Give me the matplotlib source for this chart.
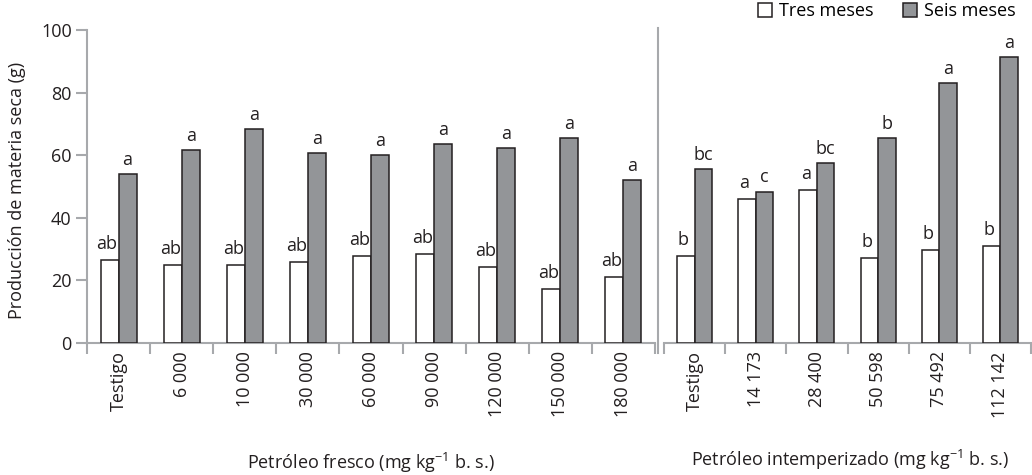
import matplotlib
matplotlib.use("Agg")
import matplotlib.pyplot as plt
from matplotlib.lines import Line2D
import numpy as np

plt.rcParams['font.family'] = ['Open Sans', 'DejaVu Sans']
plt.rcParams['mathtext.fontset'] = 'custom'
plt.rcParams['mathtext.rm'] = 'Open Sans'

# fresh oil doses
fresco_cats = ["Testigo", "6 000", "10 000", "30 000", "60 000",
               "90 000", "120 000", "150 000", "180 000"]
fresco_tres = [26.6, 24.8, 24.8, 25.9, 27.9, 28.4, 24.3, 17.4, 21.1]
fresco_seis = [54.0, 61.7, 68.5, 60.6, 60.0, 63.6, 62.4, 65.5, 52.1]
fresco_tres_let = ["ab"] * 9
fresco_seis_let = ["a"] * 9

# weathered oil doses
intemp_cats = ["Testigo", "14 173", "28 400", "50 598", "75 492", "112 142"]
intemp_tres = [27.9, 46.0, 48.9, 27.2, 29.7, 30.9]
intemp_seis = [55.6, 48.4, 57.6, 65.5, 83.1, 91.5]
intemp_tres_let = ["b", "a", "a", "b", "b", "b"]
intemp_seis_let = ["bc", "c", "bc", "b", "a", "a"]

W, H = 1032, 475
fig = plt.figure(figsize=(W / 100, H / 100), dpi=100)

spine_col = "#a7a9ac"
edge_col = "#231f20"
gray_fill = "#939598"
fs = 13

y0, y100 = 343, 30
bot = 1 - y0 / H
hgt = (y0 - y100) / H

ax1 = fig.add_axes([87 / W, bot, (655 - 87) / W, hgt])
ax2 = fig.add_axes([664 / W, bot, (1031 - 664) / W, hgt])

bw = 0.285


def draw(ax, cats, tres, seis, ltres, lseis):
    x = np.arange(len(cats)) + 0.5
    b1 = ax.bar(x - bw / 2, tres, bw, color="white", edgecolor=edge_col,
                linewidth=1.1, zorder=3, label="Tres meses")
    b2 = ax.bar(x + bw / 2, seis, bw, color=gray_fill, edgecolor=edge_col,
                linewidth=1.1, zorder=3, label="Seis meses")
    for xi, v, t in zip(x - bw / 2, tres, ltres):
        ax.text(xi - 0.04, v + 2.2, t, ha="center", va="bottom", fontsize=fs,
                color=edge_col)
    for xi, v, t in zip(x + bw / 2, seis, lseis):
        ax.text(xi, v + 1.6, t, ha="center", va="bottom", fontsize=fs,
                color=edge_col)
    ax.set_xlim(0, len(cats))
    ax.set_ylim(0, 100)
    ax.set_xticks(np.arange(len(cats) + 1))
    ax.set_xticklabels([])
    ax.set_xticks(x, minor=True)
    ax.set_xticklabels(cats, minor=True, rotation=90, fontsize=fs,
                       color=edge_col)
    ax.tick_params(axis="x", which="major", length=8, width=1.5,
                   color=spine_col, direction="out")
    ax.tick_params(axis="x", which="minor", length=0, pad=6)
    for s in ["top", "right"]:
        ax.spines[s].set_visible(False)
    ax.spines["bottom"].set_color(spine_col)
    ax.spines["bottom"].set_linewidth(1.5)
    ax.spines["left"].set_color(spine_col)
    ax.spines["left"].set_linewidth(1.5)
    return b1, b2


h1, h2 = draw(ax1, fresco_cats, fresco_tres, fresco_seis,
              fresco_tres_let, fresco_seis_let)
draw(ax2, intemp_cats, intemp_tres, intemp_seis,
     intemp_tres_let, intemp_seis_let)

ax1.set_yticks([0, 20, 40, 60, 80, 100])
ax1.tick_params(axis="y", length=8, width=1.5, color=spine_col, pad=3,
                labelsize=fs, labelcolor=edge_col)
ax2.spines["left"].set_visible(False)
ax2.set_yticks([])

# divider between the two panels
fig.add_artist(Line2D([658 / W, 658 / W], [1 - 28 / H, 1 - 353 / H],
                      color=spine_col, linewidth=1.5))

fig.text(17 / W, 1 - 190 / H, "Producción de materia seca (g)",
         rotation=90, ha="center", va="center", fontsize=fs, color=edge_col)
fig.text(371 / W, 1 - 463 / H, r"Petróleo fresco (mg kg$^{\mathregular{-1}}$ b. s.)",
         ha="center", va="center", fontsize=fs, color=edge_col)
fig.text(850 / W, 1 - 460 / H,
         r"Petróleo intemperizado (mg kg$^{\mathregular{-1}}$ b. s.)",
         ha="center", va="center", fontsize=fs, color=edge_col)

fig.legend(handles=[h1, h2], loc="upper right", ncol=2, frameon=False,
           bbox_to_anchor=(1016 / W, 1 - 2 / H), borderaxespad=0,
           borderpad=0, fontsize=fs, handlelength=0.8, handleheight=0.8,
           handletextpad=0.4, columnspacing=1.6)

fig.savefig("out.png", dpi=100)
